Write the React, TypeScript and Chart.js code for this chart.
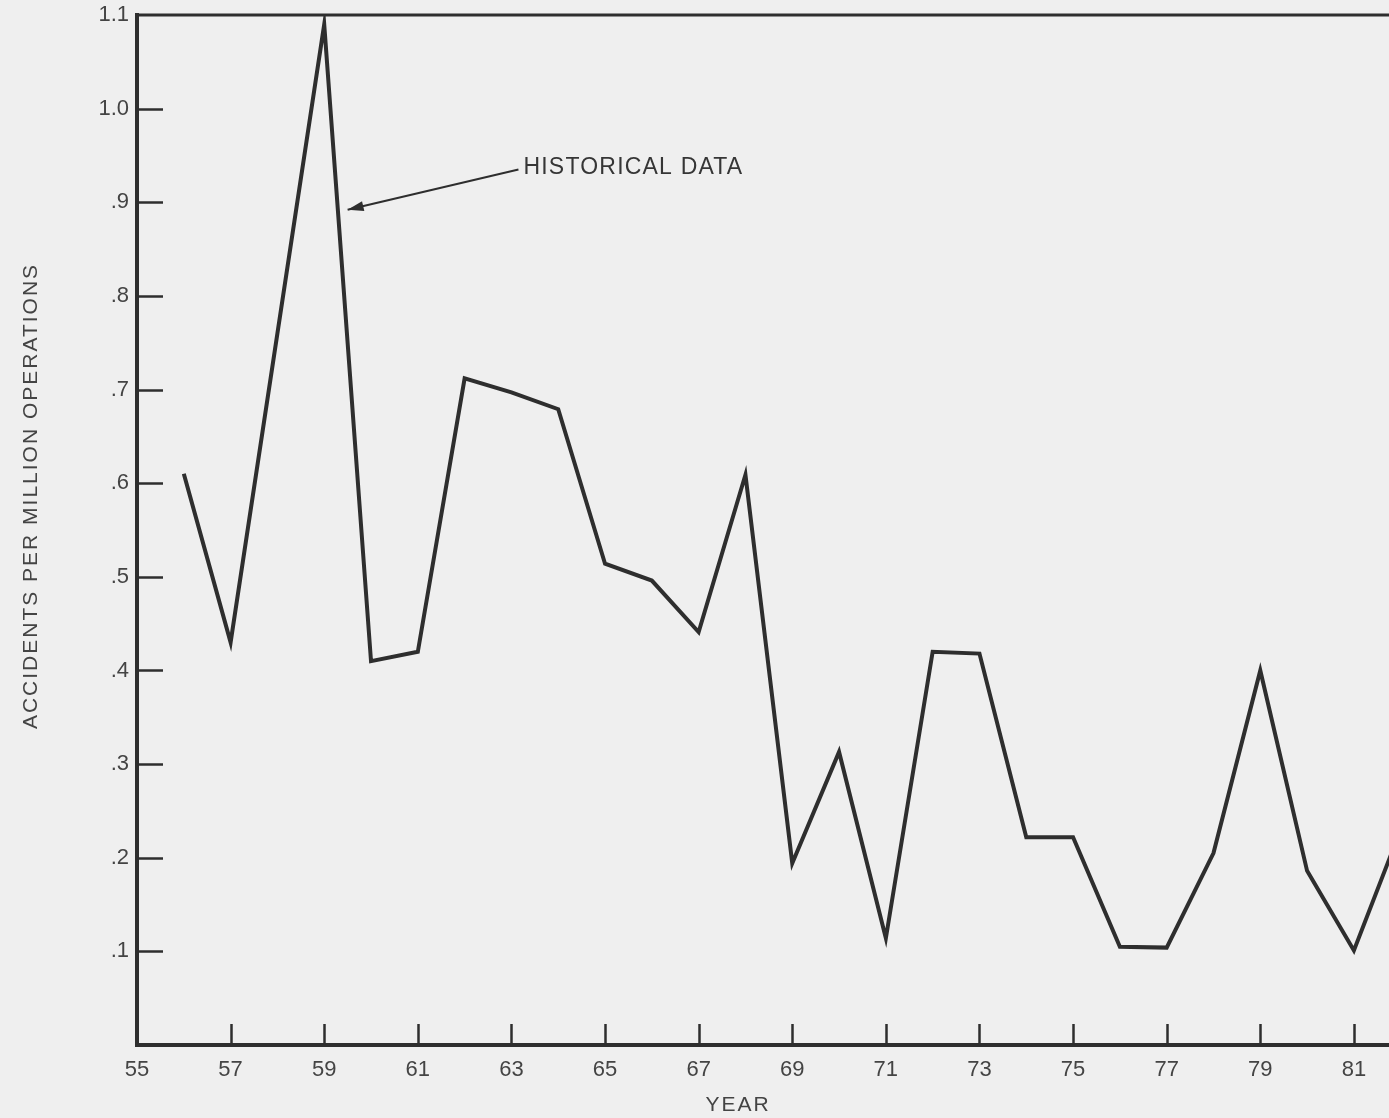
import React, { useEffect, useRef } from "react";
import { Chart, registerables } from "chart.js";

Chart.register(...registerables);

const years = [56, 57, 58, 59, 60, 61, 62, 63, 64, 65, 66, 67, 68, 69, 70, 71, 72, 73, 74, 75, 76, 77, 78, 79, 80, 81, 82];
const accidentRates = [0.61, 0.43, 0.76, 1.09, 0.41, 0.42, 0.712, 0.697, 0.679, 0.514, 0.496, 0.441, 0.609, 0.194, 0.313, 0.114, 0.42, 0.418, 0.222, 0.222, 0.105, 0.104, 0.205, 0.4, 0.186, 0.101, 0.23];
const xTickYears = [55, 57, 59, 61, 63, 65, 67, 69, 71, 73, 75, 77, 79, 81];
const yTickValues = [0.1, 0.2, 0.3, 0.4, 0.5, 0.6, 0.7, 0.8, 0.9, 1.0, 1.1];
const seriesLabel = "HISTORICAL DATA";
const xTitle = "YEAR";
const yTitle = "ACCIDENTS PER MILLION OPERATIONS";

const INK = "#2e2e2e";
const TEXT = "#444444";
const FONT = "'Liberation Sans', Arial, sans-serif";

function fmtY(v: number): string {
  const r = Math.round(v * 10) / 10;
  if (r === 0) return "";
  const s = r.toFixed(1);
  return s.startsWith("0") ? s.slice(1) : s;
}

const decorPlugin = {
  id: "decor",
  afterDraw(chart: any) {
    const ctx = chart.ctx as CanvasRenderingContext2D;
    const { left, right, top, bottom } = chart.chartArea;
    const xs = chart.scales.x;
    const ys = chart.scales.y;
    ctx.save();
    ctx.strokeStyle = INK;
    ctx.lineCap = "butt";
    // top border
    ctx.lineWidth = 3;
    ctx.beginPath();
    ctx.moveTo(left, top);
    ctx.lineTo(right, top);
    ctx.stroke();
    // inward y ticks
    ctx.lineWidth = 2.5;
    yTickValues.forEach((v) => {
      if (v >= 1.1) return;
      const py = Math.round(ys.getPixelForValue(v)) + 0.5;
      ctx.beginPath();
      ctx.moveTo(left, py);
      ctx.lineTo(left + 26, py);
      ctx.stroke();
    });
    // inward x ticks
    xTickYears.forEach((v) => {
      if (v === 55) return;
      const px = Math.round(xs.getPixelForValue(v)) + 0.5;
      ctx.beginPath();
      ctx.moveTo(px, bottom);
      ctx.lineTo(px, bottom - 21);
      ctx.stroke();
    });
    // annotation arrow
    const tipX = xs.getPixelForValue(59.5);
    const tipY = ys.getPixelForValue(0.892);
    const tailX = xs.getPixelForValue(63.15);
    const tailY = ys.getPixelForValue(0.935);
    ctx.lineWidth = 2;
    ctx.beginPath();
    ctx.moveTo(tailX, tailY);
    ctx.lineTo(tipX, tipY);
    ctx.stroke();
    const ang = Math.atan2(tipY - tailY, tipX - tailX);
    const len = 16;
    const wid = 5;
    ctx.fillStyle = INK;
    ctx.beginPath();
    ctx.moveTo(tipX, tipY);
    ctx.lineTo(tipX - len * Math.cos(ang) + wid * Math.sin(ang), tipY - len * Math.sin(ang) - wid * Math.cos(ang));
    ctx.lineTo(tipX - len * Math.cos(ang) - wid * Math.sin(ang), tipY - len * Math.sin(ang) + wid * Math.cos(ang));
    ctx.closePath();
    ctx.fill();
    // annotation text
    ctx.fillStyle = "#363636";
    (ctx as any).letterSpacing = "1.2px";
    ctx.font = `23px ${FONT}`;
    ctx.textAlign = "left";
    ctx.textBaseline = "middle";
    ctx.fillText(seriesLabel, tailX + 5, tailY - 2);
    // x title
    ctx.fillStyle = TEXT;
    (ctx as any).letterSpacing = "2px";
    ctx.font = `21px ${FONT}`;
    ctx.textAlign = "center";
    ctx.fillText(xTitle, 738, 1105);
    // y title
    ctx.translate(31, 496);
    ctx.rotate(-Math.PI / 2);
    ctx.fillText(yTitle, 0, 0);
    ctx.restore();
  },
};

export default function App() {
  const canvasRef = useRef<HTMLCanvasElement | null>(null);

  useEffect(() => {
    if (!canvasRef.current) return;
    const chart = new Chart(canvasRef.current, {
      type: "line",
      data: {
        datasets: [
          {
            label: seriesLabel,
            data: years.map((x, i) => ({ x, y: accidentRates[i] })),
            borderColor: INK,
            borderWidth: 4,
            pointRadius: 0,
            tension: 0,
            fill: false,
            borderJoinStyle: "miter",
          },
        ],
      },
      options: {
        animation: false,
        responsive: false,
        maintainAspectRatio: false,
        layout: { padding: { top: 15, right: 0, left: 0, bottom: 0 } },
        plugins: {
          legend: { display: false },
          tooltip: { enabled: false },
        },
        scales: {
          x: {
            type: "linear",
            min: 55,
            max: 81.75,
            afterBuildTicks: (scale: any) => {
              scale.ticks = xTickYears.map((v) => ({ value: v }));
            },
            afterFit: (scale: any) => {
              scale.height = 73;
              scale.paddingLeft = 0;
              scale.paddingRight = 0;
            },
            grid: { display: false, drawTicks: false },
            border: { display: true, color: INK, width: 4 },
            ticks: {
              color: TEXT,
              font: { family: FONT, size: 22 },
              padding: 12,
              maxRotation: 0,
              autoSkip: false,
              callback: (v: any) => String(v),
            },
          },
          y: {
            type: "linear",
            min: 0,
            max: 1.1,
            afterBuildTicks: (scale: any) => {
              scale.ticks = [0, ...yTickValues].map((v) => ({ value: v }));
            },
            afterFit: (scale: any) => {
              scale.width = 137;
              scale.paddingTop = 0;
              scale.paddingBottom = 0;
            },
            grid: { display: false, drawTicks: false },
            border: { display: true, color: INK, width: 4 },
            ticks: {
              color: TEXT,
              font: { family: FONT, size: 22 },
              padding: 8,
              autoSkip: false,
              callback: (v: any) => fmtY(Number(v)),
            },
          },
        },
      },
      plugins: [decorPlugin],
    } as any);
    return () => chart.destroy();
  }, []);

  return (
    <div style={{ position: "absolute", left: 0, top: 0, width: 1389, height: 1118, background: "#efefef", overflow: "hidden" }}>
      <canvas ref={canvasRef} width={1389} height={1118} style={{ display: "block", width: 1389, height: 1118 }} />
    </div>
  );
}
